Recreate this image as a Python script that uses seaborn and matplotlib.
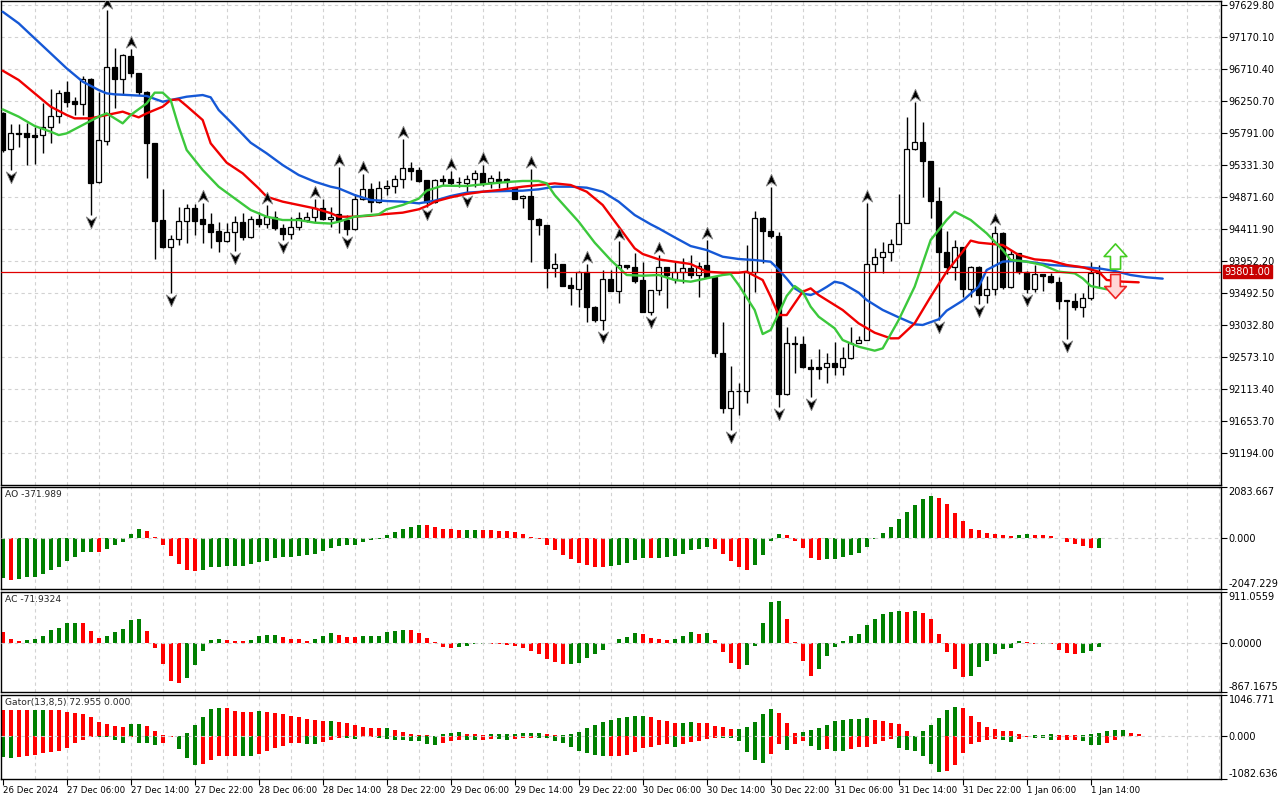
import numpy as np
import pandas as pd
import matplotlib
matplotlib.use("Agg")
import matplotlib.pyplot as plt
import seaborn as sns
from matplotlib.path import Path

# ---------------- data (H1 bars, 26 Dec 22:00 .. 1 Jan 15:00) ----------------
opens = [
    96074, 95557, 95786, 95786, 95767, 95758, 95882, 96035, 96380, 96251,
    96203, 96572, 95082, 95681, 96744, 96562, 96897, 96648, 96385, 95643,
    94541, 94148, 94263, 94532, 94709, 94551, 94479, 94383, 94244, 94364,
    94512, 94292, 94560, 94484, 94580, 94422, 94335, 94436, 94541, 94580,
    94709, 94551, 94623, 94541, 94407, 94838, 94982, 94805, 94996, 95035,
    95126, 95284, 95260, 95116, 94805, 95126, 95126, 95088, 95078, 95135,
    95221, 95088, 95126, 95126, 94996, 94857, 94886, 94560, 94465, 93847,
    93909, 93607, 93545, 93799, 93296, 93105, 93689, 93526, 93890, 93871,
    93679, 93224, 93535, 93861, 93693, 93799, 93847, 93751, 93895, 93727,
    92635, 91835, 92084, 92084, 93799, 94565, 94388, 94311, 92036, 92779,
    92760, 92424, 92424, 92424, 92482, 92424, 92554, 92779, 92817, 93904,
    94005, 94077, 94197, 94503, 95557, 95657, 95389, 94819, 94077, 93862,
    94149, 93546, 93871, 93464, 93546, 94360, 93584, 94063, 93799, 93546,
    93766, 93737, 93656, 93392, 93383, 93297, 93416, 93785,
]
highs = [
    96098, 95920, 95920, 95940, 95882, 96217, 96419, 96409, 96538, 96313,
    96610, 96580, 96385, 97558, 97008, 96920, 96993, 96655, 96390, 95650,
    94982, 94326, 94723, 94771, 94771, 94790, 94637, 94517, 94503, 94599,
    94637, 94599, 94656, 94757, 94675, 94484, 94580, 94656, 94656, 94838,
    94838, 94723, 95308, 94613, 94915, 95202, 95068, 95106, 95116, 95188,
    95705, 95379, 95308, 95120, 95126, 95188, 95250, 95154, 95188, 95260,
    95332, 95188, 95250, 95140, 95020, 94900, 95269, 94565, 94470, 94062,
    93915, 93727, 93805, 93909, 93300, 93823, 93823, 94244, 93895, 94062,
    93943, 93540, 94038, 93865, 93942, 93990, 94038, 93942, 94254, 93730,
    93080, 92443, 92204, 94182, 94675, 94589, 95020, 94373, 93008, 92875,
    92875, 92539, 92683, 92635, 92793, 92721, 93000, 92875, 94780, 94134,
    94230, 94264, 94910, 96026, 96242, 95954, 95395, 95011, 94388, 94254,
    94155, 93875, 93875, 93737, 94455, 94365, 94111, 94065, 93805, 93895,
    93770, 93785, 93727, 93395, 93488, 93488, 93943, 93895,
]
lows = [
    95523, 95260, 95595, 95332, 95346, 95509, 95652, 95930, 96170, 96050,
    96050, 94613, 95070, 95619, 96146, 96337, 96600, 96337, 95140, 93976,
    94140, 93488, 94177, 94206, 94326, 94206, 94134, 94086, 94220, 94100,
    94254, 94285, 94445, 94422, 94398, 94254, 94263, 94398, 94517, 94517,
    94541, 94436, 94350, 94326, 94398, 94829, 94661, 94781, 94900, 94924,
    94996, 95116, 95092, 94723, 94790, 95044, 95035, 95020, 94915, 95020,
    95030, 94996, 94996, 94996, 94845, 94709, 93943, 94326, 93560, 93727,
    93590, 93320, 93296, 93081, 93081, 92961, 93520, 93344, 93832, 93631,
    93220, 93176, 93463, 93272, 93631, 93631, 93703, 93430, 93703, 92568,
    91763, 91524, 91739, 91917, 93511, 93918, 94278, 91860, 92027, 92348,
    92410, 92003, 92252, 92204, 92314, 92314, 92539, 92769, 92812, 93799,
    93784, 93957, 94192, 94494, 95550, 94877, 94566, 93105, 93766, 93680,
    93431, 93440, 93335, 93344, 93464, 93546, 93560, 93766, 93498, 93512,
    93526, 93632, 93258, 92827, 93249, 93153, 93392, 93584,
]
closes = [
    95547, 95786, 95776, 95738, 95738, 95882, 96035, 96371, 96241, 96203,
    96572, 95068, 95691, 96744, 96562, 96912, 96648, 96385, 95643, 94532,
    94148, 94263, 94532, 94709, 94532, 94479, 94374, 94244, 94364, 94512,
    94292, 94551, 94484, 94580, 94422, 94335, 94436, 94570, 94580, 94709,
    94551, 94589, 94541, 94407, 94838, 94982, 94805, 94996, 95035, 95126,
    95284, 95250, 95106, 94805, 95116, 95106, 95078, 95085, 95135, 95221,
    95068, 95145, 95106, 95092, 94848, 94886, 94560, 94465, 93847, 93909,
    93598, 93560, 93799, 93296, 93105, 93689, 93526, 93890, 93861, 93670,
    93224, 93535, 93861, 93751, 93799, 93847, 93751, 93880, 93727, 92635,
    91835, 92084, 92080, 93799, 94565, 94388, 94311, 92036, 92779, 92755,
    92424, 92395, 92405, 92482, 92424, 92554, 92779, 92817, 93909, 94005,
    94076, 94197, 94503, 95557, 95657, 95389, 94819, 94077, 93862, 94149,
    93546, 93871, 93464, 93546, 94360, 93584, 94053, 93799, 93546, 93761,
    93737, 93656, 93383, 93378, 93297, 93416, 93785, 93801,
]

# alligator lines (bar index, price) - already shifted forward as drawn
jaw_idx = [0, 2, 4, 6, 8, 10, 12, 13, 14, 18, 20, 21, 23, 25, 26, 27, 29, 31, 33, 35,
           37, 39, 41, 42, 44, 46, 48, 50, 52, 54, 56, 58, 60, 63, 65, 67, 69, 71, 73, 75,
           77, 79, 81, 82, 84, 86, 88, 90, 92, 94, 96, 97, 98, 99, 100, 101, 102, 103, 104, 105,
           107, 108, 110, 112, 114, 115, 117, 118, 120, 122, 123, 125, 127, 129, 131, 133, 135, 137, 139, 141,
           143, 145]
jaw_vals = [97534, 97367, 97151, 96936, 96720, 96529, 96409, 96361, 96347, 96323, 96241, 96265, 96313, 96337, 96304, 96122, 95892, 95652, 95499, 95331,
            95188, 95092, 95020, 94996, 94900, 94829, 94814, 94805, 94781, 94819, 94886, 94934, 94948, 94958, 94963, 94982, 95020, 95020, 95006, 94948,
            94805, 94613, 94480, 94421, 94292, 94167, 94110, 94014, 93981, 93966, 93942, 93830, 93700, 93560, 93487, 93463, 93511, 93580, 93655, 93631,
            93497, 93392, 93249, 93143, 93043, 93033, 93115, 93239, 93383, 93584, 93823, 93943, 93957, 93929, 93895, 93881, 93862, 93847, 93809, 93751,
            93718, 93699]
teeth_idx = [0, 2, 4, 6, 8, 9, 11, 12, 14, 15, 17, 18, 20, 21, 22, 23, 25, 26, 28, 30,
             32, 33, 35, 37, 39, 41, 42, 44, 46, 48, 50, 52, 53, 54, 56, 58, 60, 62, 65, 67,
             69, 71, 73, 75, 77, 79, 80, 82, 84, 86, 88, 90, 92, 93, 95, 96, 97, 98, 99, 100,
             101, 102, 105, 107, 109, 111, 112, 114, 116, 118, 120, 121, 122, 125, 127, 129, 131, 133, 135, 137,
             138, 140, 142]
teeth_vals = [96687, 96553, 96361, 96170, 96050, 96002, 96002, 96026, 96074, 96098, 96016, 96074, 96170, 96265, 96275, 96179, 95978, 95643, 95365, 95212,
              94996, 94876, 94805, 94757, 94709, 94640, 94589, 94589, 94604, 94628, 94647, 94695, 94742, 94805, 94867, 94915, 94948, 94972, 95020, 95044,
              95068, 95044, 94948, 94757, 94446, 94134, 94053, 93976, 93942, 93909, 93799, 93784, 93784, 93799, 93679, 93439, 93176, 93176, 93344, 93511,
              93559, 93463, 93248, 93056, 92922, 92841, 92842, 93057, 93440, 93799, 94087, 94245, 94216, 94182, 94039, 93976, 93957, 93895, 93862, 93799,
              93680, 93656, 93646]
lips_idx = [0, 2, 4, 6, 7, 8, 10, 12, 13, 15, 16, 18, 19, 20, 21, 22, 23, 25, 27, 29,
            31, 33, 35, 37, 39, 41, 42, 44, 46, 47, 48, 50, 52, 53, 55, 58, 60, 63, 65, 67,
            68, 69, 72, 74, 76, 78, 80, 82, 84, 86, 88, 90, 91, 92, 94, 95, 96, 97, 98, 99,
            100, 101, 102, 104, 105, 107, 109, 110, 111, 112, 114, 116, 118, 119, 121, 123, 125, 126, 128, 130,
            132, 134, 135, 136, 138, 140]
lips_vals = [96131, 96026, 95892, 95810, 95762, 95786, 95906, 96026, 96074, 95930, 96050, 96217, 96371, 96371, 96265, 95882, 95547, 95260, 95020, 94852,
             94685, 94589, 94541, 94541, 94503, 94490, 94517, 94589, 94613, 94623, 94695, 94757, 94848, 94963, 95035, 95030, 95054, 95087, 95102, 95102,
             95068, 94900, 94517, 94216, 93967, 93751, 93741, 93751, 93679, 93655, 93703, 93751, 93765, 93607, 93248, 92903, 92961, 93200, 93450, 93593,
             93511, 93296, 93152, 92985, 92817, 92721, 92664, 92697, 92900, 93105, 93584, 94254, 94542, 94661, 94542, 94350, 94111, 93967, 93943, 93895,
             93799, 93775, 93703, 93593, 93546, 93574]

fractal_up = [13, 16, 25, 33, 39, 42, 45, 50, 56, 60, 66, 73, 77, 82, 88, 96, 108, 114, 124]
fractal_down = [1, 11, 21, 29, 35, 43, 53, 58, 75, 81, 91, 97, 101, 117, 122, 128, 133]

signal_bar = 139
signal_up_price = 94030
signal_down_price = 93600
last_price = 93801.00

price_ticks = [97629.80, 97170.10, 96710.40, 96250.70, 95791.00, 95331.30, 94871.60, 94411.90,
               93952.20, 93492.50, 93032.80, 92573.10, 92113.40, 91653.70, 91194.00]

time_labels = ["26 Dec 2024", "27 Dec 06:00", "27 Dec 14:00", "27 Dec 22:00", "28 Dec 06:00",
               "28 Dec 14:00", "28 Dec 22:00", "29 Dec 06:00", "29 Dec 14:00", "29 Dec 22:00",
               "30 Dec 06:00", "30 Dec 14:00", "30 Dec 22:00", "31 Dec 06:00", "31 Dec 14:00",
               "31 Dec 22:00", "1 Jan 06:00", "1 Jan 14:00"]

ao_vals = [-1608, -1675, -1662, -1581, -1541, -1434, -1273, -1139, -911, -737,
           -540, -530, -545, -429, -268, -134, 161, 375, 295, 40,
           -268, -697, -1032, -1273, -1313, -1273, -1152, -1139, -1112, -1110,
           -1099, -1032, -965, -911, -777, -750, -737, -697, -670, -630,
           -496, -402, -308, -268, -265, -161, -67, -27, 134, 268,
           402, 482, 540, 536, 456, 402, 375, 335, 338, 340,
           335, 333, 308, 305, 268, 161, 40, -27, -268, -469,
           -670, -831, -978, -1072, -1139, -1145, -1099, -1072, -992, -871,
           -777, -804, -777, -750, -697, -630, -456, -429, -348, -429,
           -630, -911, -1139, -1273, -1072, -670, -94, 161, 121, -94,
           -375, -777, -871, -831, -817, -764, -670, -590, -348, -40,
           201, 456, 804, 1072, 1340, 1581, 1729, 1621, 1380, 1018,
           697, 402, 335, 228, 174, 134, 94, 134, 174, 134,
           130, 94, 5, -134, -228, -308, -390, -372]

ac_vals = [194, 76, 35, 65, 82, 135, 229, 264, 352, 364, 360, 223, 100,
           135, 205, 258, 405, 434, 211, -88, -376, -675, -704, -616, -387, -141,
           65, 76, 65, 47, 35, 65, 135, 153, 155, 117, 82, 70, 47,
           82, 135, 188, 153, 117, 115, 123, 135, 137, 194, 223, 241,
           238, 188, 100, 29, -70, -88, -70, -47, -18, -15, -20, -22, -25,
           -47, -88, -141, -194, -288, -335,
           -376, -370, -346, -258, -188, -117, -3, 70, 106, 176, 172, 100, 70, 53, 70, 123, 194, 164, 176,
           53, -153, -346, -452, -387, -47, 358, 740, 757, 434, 18, -311, -575,
           -458, -229, -65, 35, 123, 158, 317, 423, 517, 552, 569, 558, 581,
           546, 434, 158, -153, -452, -593, -590, -417, -311, -188, -100, -82,
           35, 20, -12, -5, -12, -117, -170, -188, -170, -135, -72]

gator_up = [665, 662, 660, 658, 660, 662, 660, 658,
            625, 592, 558, 482, 372, 304, 270, 237,
            304, 306, 262, 127, 34, 8, 3,
            76, 279, 482, 693, 710,
            705, 634, 608, 605, 634, 608, 600, 558, 524, 499, 431, 406, 389,
            400, 355, 338, 279, 237, 203, 200,
            210, 161, 118, 68, 34, 30, 17,
            59, 85, 101,
            51, 49, 34,
            51, 52, 53, 54, 76, 85, 86,
            51, 34,
            42, 51, 101, 203, 279, 355, 406, 456, 482, 507, 510,
            482, 406, 380, 330,
            332, 355,
            330, 328, 253, 228, 177,
            180, 228, 355, 558, 684,
            583, 330, 76,
            101, 150, 203, 290, 380, 406, 431, 433, 456, 406, 400, 330, 304, 127, 17,
            127, 279, 456, 659, 735, 710, 507, 355, 228, 177, 127, 125, 51, 10,
            25, 34, 51, 45, 30, 25, 34, 50, 73, 135, 152, 153, 93, 68]
gator_low = [532, 541, 515, 490, 473, 423, 406, 372, 296, 169, 101, 17,
             20, 25, 93, 169, 17, 169, 172, 220, 169, 8,
             321, 541, 727, 701, 592, 507, 505, 503,
             506, 512, 439, 380, 296, 237, 177, 175, 194, 196,
             144, 93, 51, 55, 60, 25, 24, 34,
             68, 93, 95, 118, 127, 203, 220, 169, 118,
             95, 98, 100, 93, 68, 70, 85,
             68, 51, 34, 42, 45,
             118, 177, 279, 372, 423, 473, 499,
             495, 492, 473, 406, 296, 270, 228, 194,
             270, 194, 152, 127, 68, 42, 45, 50, 127,
             406, 608, 676, 448, 194, 346, 200,
             127, 245, 346, 321, 380, 382, 330, 279, 270, 194, 118, 68,
             296, 346, 380, 499, 701, 904, 879, 727, 423, 194, 144, 93, 68,
             93, 144, 68, 17, 34, 36, 93, 90, 88, 85, 118, 220, 222, 165, 101, 17]

GREEN = "#008000"
RED = "#ff0000"

# ---------------- figure ----------------
sns.set_theme(style="white")
plt.rcParams["font.family"] = ["DejaVu Sans"]

W, H = 1280, 800
fig = plt.figure(figsize=(W / 100, H / 100), dpi=100)


def panel(top, bottom):
    return fig.add_axes([1 / W, 1 - bottom / H, 1220 / W, (bottom - top) / H])


ax = panel(1, 485)
ax_ao = panel(487, 589)
ax_ac = panel(592, 692)
ax_gt = panel(695, 779)

grid_kw = dict(color="#d2d2d2", lw=0.8, ls=(0, (3, 3)), zorder=0)
for a in (ax, ax_ao, ax_ac, ax_gt):
    a.set_facecolor("white")
    a.set_xlim(-0.21, 152.29)
    for k in range(4, 153, 4):
        a.axvline(k, **grid_kw)
    for s in a.spines.values():
        s.set_color("black")
        s.set_linewidth(1)
    a.yaxis.tick_right()
    a.tick_params(axis="y", right=True, direction="out", length=4, width=0.8,
                  pad=1.5, labelsize=7, colors="black")
    a.tick_params(axis="x", bottom=False, labelbottom=False)

# ---- candles ----
df = pd.DataFrame({"open": opens, "high": highs, "low": lows, "close": closes})
df["k"] = np.arange(len(df))
bull = df[df.close >= df.open]
bear = df[df.close < df.open]
ax.vlines(df.k, df.low, df.high, color="black", lw=1, zorder=2)
ax.bar(bull.k, (bull.close - bull.open).clip(lower=8), bottom=bull.open, width=0.62,
       facecolor="white", edgecolor="black", lw=0.9, zorder=3)
ax.bar(bear.k, (bear.open - bear.close).clip(lower=8), bottom=bear.close, width=0.62,
       facecolor="black", edgecolor="black", lw=0.9, zorder=3)

# ---- alligator ----
for xs, ys, col in [(jaw_idx, jaw_vals, "#1558d6"), (teeth_idx, teeth_vals, "#f00000"),
                    (lips_idx, lips_vals, "#3cc83c")]:
    sns.lineplot(x=xs, y=ys, ax=ax, color=col, lw=1.7, estimator=None, sort=False,
                 legend=False, zorder=4)

# ---- fractals ----
up_head = Path([(0, 0.5), (0.42, -0.45), (0, -0.15), (-0.42, -0.45), (0, 0.5)],
               [Path.MOVETO, Path.LINETO, Path.LINETO, Path.LINETO, Path.CLOSEPOLY])
dn_head = Path([(0, -0.5), (0.42, 0.45), (0, 0.15), (-0.42, 0.45), (0, -0.5)],
               [Path.MOVETO, Path.LINETO, Path.LINETO, Path.LINETO, Path.CLOSEPOLY])
ax.scatter(fractal_up, df.high[fractal_up] + 100, marker=up_head, s=80, c="black",
           edgecolors="#8a8a8a", linewidths=0.6, zorder=6)
ax.scatter(fractal_down, df.low[fractal_down] - 100, marker=dn_head, s=80, c="black",
           edgecolors="#8a8a8a", linewidths=0.6, zorder=6)

# ---- signal arrows ----
block_up = Path([(-0.2, -0.5), (0.2, -0.5), (0.2, 0.0), (0.45, 0.0), (0, 0.5), (-0.45, 0.0),
                 (-0.2, 0.0), (-0.2, -0.5)],
                [Path.MOVETO] + [Path.LINETO] * 6 + [Path.CLOSEPOLY])
block_dn = Path([(x, -y) for x, y in block_up.vertices], block_up.codes)
ax.scatter([signal_bar], [signal_up_price], marker=block_up, s=330, facecolors="white",
           edgecolors="#44cc22", linewidths=1.2, zorder=7)
ax.scatter([signal_bar], [signal_down_price], marker=block_dn, s=300, facecolors="#ffd6d6",
           edgecolors="#ee2222", linewidths=1.2, zorder=7)

# ---- current price ----
ax.axhline(last_price, color="#e00000", lw=0.9, zorder=5)
ax.annotate(f"{last_price:.2f}", xy=(1, last_price), xycoords=("axes fraction", "data"),
            xytext=(2.5, 0), textcoords="offset points", ha="left", va="center",
            fontsize=7, color="white", annotation_clip=False,
            bbox=dict(boxstyle="square,pad=0.12", fc="#c80000", ec="#c80000"))

ax.set_ylim(90734, 97688)
ax.set_yticks(price_ticks)
ax.set_yticklabels([f"{v:.2f}" for v in price_ticks])
for v in price_ticks:
    ax.axhline(v, **grid_kw)
ax.set_xlabel("")
ax.set_ylabel("")


# ---- oscillators ----
def osc_panel(a, vals, first_green, lo, hi, labels, title):
    v = np.asarray(vals, dtype=float)
    cols = np.where(np.r_[first_green, np.diff(v) > 0], GREEN, RED)
    a.bar(np.arange(len(v)), v, width=0.46, color=cols, lw=0, antialiased=False, zorder=2)
    a.axhline(0, color="#cfcfcf", lw=0.8, ls=(0, (3, 3)), zorder=3)
    a.set_ylim(lo, hi)
    a.set_yticks([lo, 0, hi])
    a.set_yticklabels(labels)
    tl = a.get_yticklabels()
    tl[0].set_va("bottom")
    tl[2].set_va("top")
    a.annotate(title, xy=(0, 1), xycoords="axes fraction", xytext=(3, -2.5),
               textcoords="offset points", ha="left", va="top", fontsize=6.6)


osc_panel(ax_ao, ao_vals, True, -2047.229, 2083.667,
          ["-2047.229", "0.000", "2083.667"], "AO -371.989")
osc_panel(ax_ac, ac_vals, False, -867.1675, 911.0559,
          ["-867.1675", "0.0000", "911.0559"], "AC -71.9324")

gu = np.asarray(gator_up, dtype=float)
gl = np.asarray(gator_low, dtype=float)
ax_gt.bar(np.arange(len(gu)), gu, width=0.46, lw=0, antialiased=False,
          color=np.where(np.r_[False, np.diff(gu) > 0], GREEN, RED), zorder=2)
ax_gt.bar(np.arange(len(gl)), -gl, width=0.46, lw=0, antialiased=False,
          color=np.where(np.r_[True, np.diff(gl) > 0], GREEN, RED), zorder=2)
ax_gt.axhline(0, color="#cfcfcf", lw=0.8, ls=(0, (3, 3)), zorder=3)
ax_gt.set_ylim(-1082.636, 1046.771)
ax_gt.set_yticks([-1082.636, 0, 1046.771])
ax_gt.set_yticklabels(["-1082.636", "0.000", "1046.771"])
gtl = ax_gt.get_yticklabels()
gtl[0].set_va("bottom")
gtl[2].set_va("top")
ax_gt.annotate("Gator(13,8,5) 72.955 0.000", xy=(0, 1), xycoords="axes fraction",
               xytext=(3, -2.5), textcoords="offset points", ha="left", va="top", fontsize=6.6)

ax_gt.set_xticks(np.arange(0, 8 * len(time_labels), 8))
ax_gt.set_xticklabels(time_labels, ha="left")
ax_gt.tick_params(axis="x", bottom=True, labelbottom=True, direction="out", length=4,
                  width=0.8, pad=1, labelsize=6.2, colors="black")

fig.savefig("out.png", dpi=100)
